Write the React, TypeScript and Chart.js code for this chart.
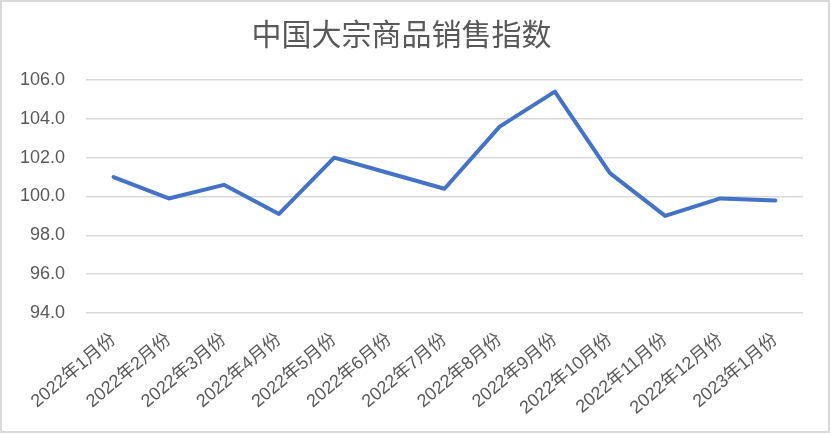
import React, { useEffect, useRef } from "react";
import { Chart, registerables } from "chart.js";

Chart.register(...registerables);

const categories = [
  "2022年1月份", "2022年2月份", "2022年3月份", "2022年4月份", "2022年5月份",
  "2022年6月份", "2022年7月份", "2022年8月份", "2022年9月份", "2022年10月份",
  "2022年11月份", "2022年12月份", "2023年1月份",
];
const salesIndex = [101.0, 99.9, 100.6, 99.1, 102.0, 101.2, 100.4, 103.6, 105.4, 101.2, 99.0, 99.9, 99.8];
const yMin = 94;
const yMax = 106;
const yStep = 2;
const titleText = "中国大宗商品销售指数";

export default function App() {
  const canvasRef = useRef<HTMLCanvasElement | null>(null);

  useEffect(() => {
    document.body.style.margin = "0";
    const ctx = canvasRef.current!.getContext("2d")!;
    const chart = new Chart(ctx, {
      type: "line",
      data: {
        labels: categories,
        datasets: [
          {
            data: salesIndex,
            borderColor: "#4472C4",
            backgroundColor: "#4472C4",
            borderWidth: 4,
            pointRadius: 0,
            borderJoinStyle: "round",
            borderCapStyle: "round",
            tension: 0,
          },
        ],
      },
      options: {
        animation: false,
        responsive: false,
        maintainAspectRatio: false,
        layout: { padding: { left: 0, right: 28, top: 0, bottom: 0 } },
        plugins: {
          legend: { display: false },
          tooltip: { enabled: false },
          title: {
            display: true,
            text: titleText,
            color: "#595959",
            font: { family: "'Noto Sans CJK SC', sans-serif", size: 30, weight: "normal", lineHeight: 1.2 },
            padding: { top: 16, bottom: 28 },
          },
        },
        scales: {
          x: {
            offset: true,
            grid: { display: false },
            border: { display: false },
            ticks: {
              color: "#595959",
              font: { family: "'Liberation Sans', 'Noto Sans CJK SC', sans-serif", size: 18 },
              maxRotation: 40,
              minRotation: 40,
              autoSkip: false,
              padding: 8,
            },
            afterFit: (scale: any) => {
              scale.height = 121;
            },
          },
          y: {
            min: yMin,
            max: yMax,
            grid: { color: "#d9d9d9", lineWidth: 1.5, drawTicks: false },
            border: { display: false },
            ticks: {
              stepSize: yStep,
              color: "#595959",
              font: { family: "'Liberation Sans', sans-serif", size: 18 },
              padding: 21,
              callback: (v: any) => Number(v).toFixed(1),
            },
            afterFit: (scale: any) => {
              scale.width = 86;
            },
          },
        },
      },
    });
    return () => chart.destroy();
  }, []);

  return (
    <div style={{ position: "relative", width: 831, height: 434, background: "#fff" }}>
      <canvas ref={canvasRef} width={831} height={434} style={{ position: "absolute", left: 0, top: 0, width: 831, height: 434 }} />
      <div
        style={{
          position: "absolute",
          left: 0,
          top: 0,
          width: 830,
          height: 433,
          border: "2px solid #d9d9d9",
          boxSizing: "border-box",
          pointerEvents: "none",
        }}
      />
    </div>
  );
}
